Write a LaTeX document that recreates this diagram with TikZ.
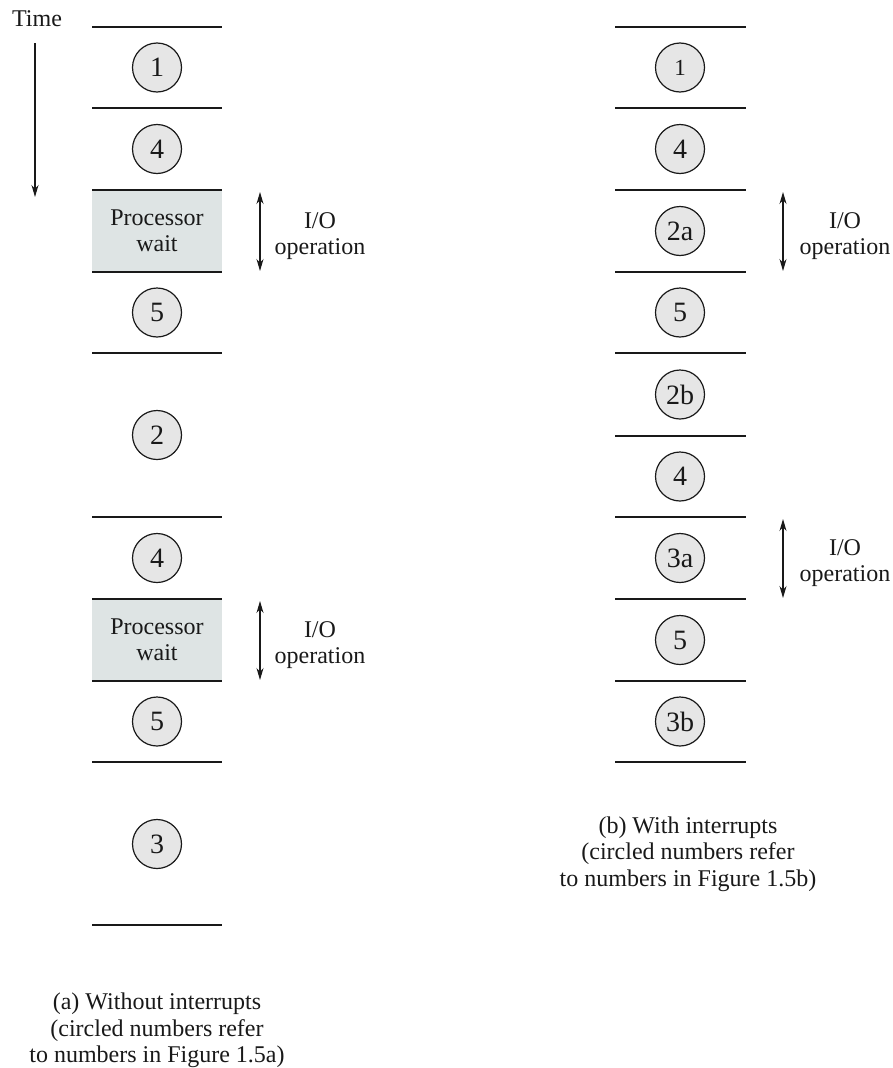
\documentclass[tikz,border=0pt]{standalone}
\usepackage{fontspec}
\setmainfont{Liberation Serif}
\usetikzlibrary{arrows.meta}
\definecolor{circfill}{RGB}{230,230,230}
\definecolor{waitfill}{RGB}{222,228,228}
\definecolor{ink}{RGB}{25,25,25}
\newcommand{\txtfont}{\fontsize{24}{26.5}\selectfont}
\begin{document}
\begin{tikzpicture}[x=1pt,y=-1pt,
  sep/.style={draw=ink, line width=1.6pt},
  num/.style={circle, draw=ink, line width=1.2pt, fill=circfill, minimum size=49pt, inner sep=0pt, text=ink, font=\fontsize{28}{30}\selectfont},
  smallnum/.style={num, font=\fontsize{23}{26}\selectfont},
  waitbox/.style={rectangle, fill=waitfill, minimum width=130pt, minimum height=82pt, inner sep=0pt, align=center, text=ink, font=\txtfont},
  lbl/.style={inner sep=0pt, align=center, font=\txtfont, text=ink},
  io/.style={draw=ink, line width=1.1pt, {Stealth[length=12pt,width=7pt]}-{Stealth[length=12pt,width=7pt]}},
  timearrow/.style={draw=ink, line width=1.1pt, -{Stealth[length=12pt,width=7pt]}},
]
\useasboundingbox (0,0) rectangle (892,1068);

% ---------- column (a) ----------
\node[waitbox] (wa1) at (157,231) {Processor\\wait};
\node[waitbox] (wa2) at (157,640) {Processor\\wait};
\foreach \y in {27,108,190,272,353,517,599,681,762,925}
  \draw[sep] (92,\y) -- (222,\y);

\node[num] (a1) at (157,67.5) {1};
\node[num] (a4) at (157,149) {4};
\node[num] (a5) at (157,312.5) {5};
\node[num] (a2) at (157,435) {2};
\node[num] (a4b) at (157,558) {4};
\node[num] (a5b) at (157,721.5) {5};
\node[num] (a3) at (157,844) {3};

% Time arrow
\node[lbl, anchor=base] (time) at (37,27) {Time};
\coordinate (t0) at (35,43);
\coordinate (t1) at (35,197);
\draw[timearrow] (t0) -- (t1);

% I/O operation arrows (a)
\coordinate (ioa1t) at (260,192);
\coordinate (ioa1b) at (260,271);
\draw[io] (ioa1t) -- (ioa1b);
\node[lbl] (ioa1) at (320,236) {I/O\\operation};
\coordinate (ioa2t) at (260,601);
\coordinate (ioa2b) at (260,680);
\draw[io] (ioa2t) -- (ioa2b);
\node[lbl] (ioa2) at (320,645) {I/O\\operation};

\node[lbl] (capa) at (157,1030.5) {(a) Without interrupts\\(circled numbers refer\\to numbers in Figure 1.5a)};

% ---------- column (b) ----------
\foreach \y in {27,108,190,272,353,436,517,599,681,762}
  \draw[sep] (615,\y) -- (746,\y);

\node[smallnum] (b1) at (680,67.5) {1};
\node[num] (b4) at (680,149) {4};
\node[num] (b2a) at (680,231) {2a};
\node[num] (b5) at (680,312.5) {5};
\node[num] (b2b) at (680,394.5) {2b};
\node[num] (b4b) at (680,476.5) {4};
\node[num] (b3a) at (680,558) {3a};
\node[num] (b5b) at (680,640) {5};
\node[num] (b3b) at (680,721.5) {3b};

\coordinate (iob1t) at (783,192);
\coordinate (iob1b) at (783,271);
\draw[io] (iob1t) -- (iob1b);
\node[lbl] (iob1) at (845,236) {I/O\\operation};
\coordinate (iob2t) at (783,519);
\coordinate (iob2b) at (783,598);
\draw[io] (iob2t) -- (iob2b);
\node[lbl] (iob2) at (845,563) {I/O\\operation};

\node[lbl] (capb) at (688,854) {(b) With interrupts\\(circled numbers refer\\to numbers in Figure 1.5b)};
\end{tikzpicture}
\end{document}
